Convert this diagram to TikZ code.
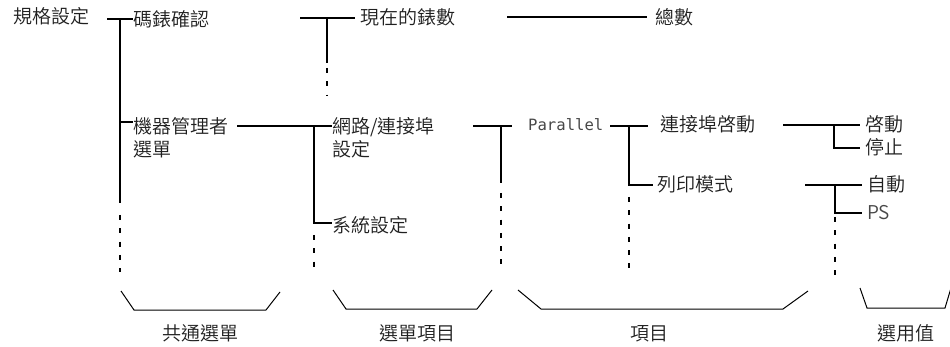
\documentclass[tikz,border=0pt]{standalone}
\usepackage{fontspec}
\setmainfont{Noto Sans CJK TC}[UprightFont={* DemiLight}]
\newfontfamily\latmono{DejaVu Sans Mono}
\begin{document}
\begin{tikzpicture}[x=1pt,y=-1pt,
  lbl/.style={anchor=base west,inner sep=0pt,text=black!88,font=\fontsize{19pt}{21.5pt}\selectfont},
  caplbl/.style={anchor=base,inner sep=0pt,text=black!88,font=\fontsize{19pt}{21.5pt}\selectfont},
  conn/.style={line width=2pt},
  dots/.style={line width=2pt,dash pattern=on 5pt off 8.3pt},
  brace/.style={line width=1pt}]
\useasboundingbox (0,0) rectangle (950,347);

% nodes
\node[lbl] (root) at (13,24) {規格設定};
\node[lbl] (stop) at (133,26.5) {碼錶確認};
\node[lbl] (cur) at (360,24.5) {現在的錶數};
\node[lbl] (tot) at (655,25) {總數};
\node[lbl] (adm) at (133,134) {\begin{tabular}[t]{@{}l@{}}機器管理者\\選單\end{tabular}};
\node[lbl] (net) at (332,134) {\begin{tabular}[t]{@{}l@{}}網路/連接埠\\設定\end{tabular}};
\node[lbl] (sys) at (332,232.5) {系統設定};
\node[lbl,font=\latmono\fontsize{15.6pt}{18pt}\selectfont,text=black!72] (par) at (528,130.5) {Parallel};
\node[lbl] (pen) at (660,132) {連接埠啓動};
\node[lbl] (pmode) at (657,191.5) {列印模式};
\node[lbl] (on) at (865,132) {啓動};
\node[lbl] (off) at (865,155) {停止};
\node[lbl] (auto) at (867,192) {自動};
\node[lbl,text=black!72] (ps) at (867,219.5) {PS};

\node[caplbl] (c1) at (200,340.5) {共通選單};
\node[caplbl] (c2) at (417,340.5) {選單項目};
\node[caplbl] (c3) at (649,340.5) {項目};
\node[caplbl] (c4) at (906,340.5) {選用值};

% root trunk
\coordinate (t0) at (107,19.5);
\coordinate (t1) at (120,19.5);
\coordinate (t2) at (120,122.5);
\coordinate (t3) at (120,203);
\coordinate (t4) at (120,215);
\coordinate (t5) at (120,272);
\draw[conn] (t0) -- (stop.west |- t0);
\draw[conn] (t1) -- (t3);
\draw[conn] (t2) -- (adm.west |- t2);
\draw[dots] (t4) -- (t5);

% stopwatch branch
\coordinate (s0) at (300,18.5);
\coordinate (s1) at (355,18.5);
\coordinate (s2) at (327,18.5);
\coordinate (s3) at (327,63);
\coordinate (s4) at (327,68);
\coordinate (s5) at (327,95);
\draw[conn] (s0) -- (s1);
\draw[conn] (s2) -- (s3);
\draw[dots] (s4) -- (s5);
\coordinate (k0) at (507,17.5);
\coordinate (k1) at (647,17.5);
\draw[conn] (k0) -- (k1);

% admin branch
\coordinate (a0) at (237,125.7);
\coordinate (a1) at (314,125.7);
\coordinate (a2) at (314,223);
\coordinate (a3) at (314,235);
\coordinate (a4) at (314,268);
\draw[conn] (a0) -- (net.west |- a0);
\draw[conn] (a1) -- (a2) -- (sys.west |- a2);
\draw[dots] (a3) -- (a4);

% network branch
\coordinate (n0) at (473,126);
\coordinate (n1) at (512,126);
\coordinate (n2) at (500.7,126);
\coordinate (n3) at (500.7,183);
\coordinate (n4) at (500.7,193);
\coordinate (n5) at (500.7,268);
\draw[conn] (n0) -- (n1);
\draw[conn] (n2) -- (n3);
\draw[dots] (n4) -- (n5);

% parallel branch
\coordinate (p0) at (610,126);
\coordinate (p1) at (648,126);
\coordinate (p2) at (629,126);
\coordinate (p3) at (629,185);
\coordinate (p4) at (629,197);
\coordinate (p5) at (629,270);
\draw[conn] (p0) -- (p1);
\draw[conn] (p2) -- (p3) -- ([xshift=-4pt]pmode.west |- p3);
\draw[dots] (p4) -- (p5);

% port enable
\coordinate (e0) at (783,125);
\coordinate (e1) at (834,125);
\coordinate (e2) at (834,148);
\draw[conn] (e0) -- ([xshift=-5pt]on.west |- e0);
\draw[conn] (e1) -- (e2) -- ([xshift=-5pt]off.west |- e2);

% print mode
\coordinate (m0) at (805,185);
\coordinate (m1) at (835,185);
\coordinate (m2) at (835,213);
\coordinate (m3) at (835,217);
\coordinate (m4) at (835,282);
\draw[conn] (m0) -- ([xshift=-5pt]auto.west |- m0);
\draw[conn] (m1) -- (m2) -- ([xshift=-5pt]ps.west |- m2);
\draw[dots] (m3) -- (m4);

% braces
\draw[brace] (121,291) -- (134,310) -- (266,310) -- (280,292);
\draw[brace] (333,290) -- (346,309) -- (477,309) -- (492,290);
\draw[brace] (518,290) -- (541,309) -- (783,309) -- (808,291);
\draw[brace] (860,288) -- (867,308) -- (945,308) -- (951,288);
\end{tikzpicture}
\end{document}
